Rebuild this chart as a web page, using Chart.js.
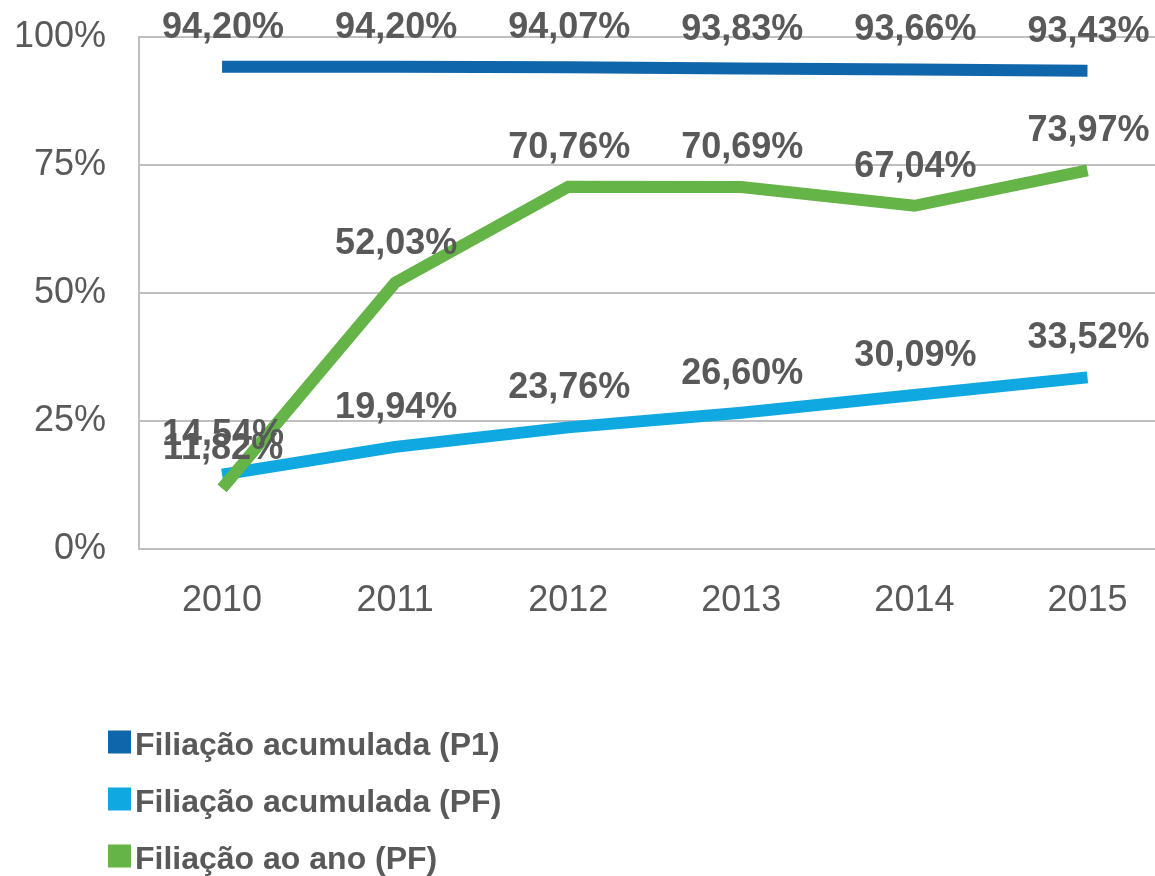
<!DOCTYPE html>
<html><head><meta charset="utf-8">
<script src="https://cdn.jsdelivr.net/npm/chart.js@4/dist/chart.umd.min.js"></script>
<style>html,body{margin:0;padding:0;background:#fff;overflow:hidden}#wrap{width:1155px;height:876px;position:relative}</style>
</head><body><div id="wrap"><canvas id="c" width="1155" height="876"></canvas></div>
<script>
const years = [2010, 2011, 2012, 2013, 2014, 2015];
const seriesNames = ['Filiação acumulada (P1)', 'Filiação acumulada (PF)', 'Filiação ao ano (PF)'];
const p1Accum = [94.20, 94.20, 94.07, 93.83, 93.66, 93.43];
const pfAccum = [14.54, 19.94, 23.76, 26.60, 30.09, 33.52];
const pfYear = [11.82, 52.03, 70.76, 70.69, 67.04, 73.97];
const yTicks = [0, 25, 50, 75, 100];
const colors = ['#1066AB', '#10A8E0', '#64B447'];

const FONT = '"Liberation Sans", Arial, Helvetica, sans-serif';
const TEXT = '#595959';
const GRID = '#BFBFBF';
Chart.defaults.font.family = FONT;

const fmt = v => v.toFixed(2).replace('.', ',') + '%';
const toPts = arr => arr.map((v, i) => ({ x: years[i], y: v }));

const valueLabels = {
  id: 'valueLabels',
  afterDatasetsDraw(chart) {
    const ctx = chart.ctx;
    ctx.save();
    ctx.font = 'bold 36px ' + FONT;
    ctx.fillStyle = TEXT;
    ctx.textAlign = 'center';
    ctx.textBaseline = 'middle';
    chart.data.datasets.forEach((ds, i) => {
      const meta = chart.getDatasetMeta(i);
      meta.data.forEach((pt, j) => {
        ctx.fillText(fmt(ds.data[j].y), pt.x + 1, pt.y - 39);
      });
    });
    ctx.restore();
  }
};

const vertLegend = {
  id: 'vertLegend',
  afterDraw(chart) {
    const ctx = chart.ctx;
    ctx.save();
    ctx.font = 'bold 32px ' + FONT;
    ctx.textBaseline = 'middle';
    ctx.textAlign = 'left';
    chart.data.datasets.forEach((ds, i) => {
      const yc = 742 + i * 57;
      ctx.fillStyle = ds.borderColor;
      ctx.fillRect(108, yc - 11.5, 23, 23);
      ctx.fillStyle = TEXT;
      ctx.fillText(ds.label, 135, yc + 4);
    });
    ctx.restore();
  }
};

new Chart(document.getElementById('c'), {
  type: 'line',
  data: {
    datasets: [
      { label: seriesNames[0], data: toPts(p1Accum), borderColor: colors[0], backgroundColor: colors[0], order: 2 },
      { label: seriesNames[1], data: toPts(pfAccum), borderColor: colors[1], backgroundColor: colors[1], order: 1 },
      { label: seriesNames[2], data: toPts(pfYear), borderColor: colors[2], backgroundColor: colors[2], order: 0 }
    ]
  },
  options: {
    responsive: false,
    animation: false,
    devicePixelRatio: 1,
    elements: {
      line: { borderWidth: 12, tension: 0, borderCapStyle: 'butt', borderJoinStyle: 'miter', fill: false },
      point: { radius: 0, hoverRadius: 0 }
    },
    layout: { padding: { top: 37, left: 0, right: 0, bottom: 0 } },
    plugins: { legend: { display: false }, tooltip: { enabled: false } },
    scales: {
      x: {
        type: 'linear',
        min: 2009.52,
        max: 2015.39,
        grid: { display: false },
        border: { display: false },
        afterBuildTicks: s => { s.ticks = years.map(v => ({ value: v })); },
        afterFit: s => { s.height = 327; s.paddingLeft = 0; s.paddingRight = 0; },
        ticks: { color: TEXT, font: { size: 36 }, padding: 22, maxRotation: 0, autoSkip: false, callback: v => String(v) }
      },
      y: {
        min: 0,
        max: 100,
        afterBuildTicks: s => { s.ticks = yTicks.map(v => ({ value: v })); },
        afterFit: s => { s.width = 139; s.paddingTop = 0; s.paddingBottom = 0; },
        grid: { color: GRID, lineWidth: 2, drawTicks: false },
        border: { display: true, color: GRID, width: 2 },
        ticks: { color: TEXT, font: { size: 36 }, padding: 33, callback: v => v + '%' }
      }
    }
  },
  plugins: [valueLabels, vertLegend]
});
</script>
</body></html>
